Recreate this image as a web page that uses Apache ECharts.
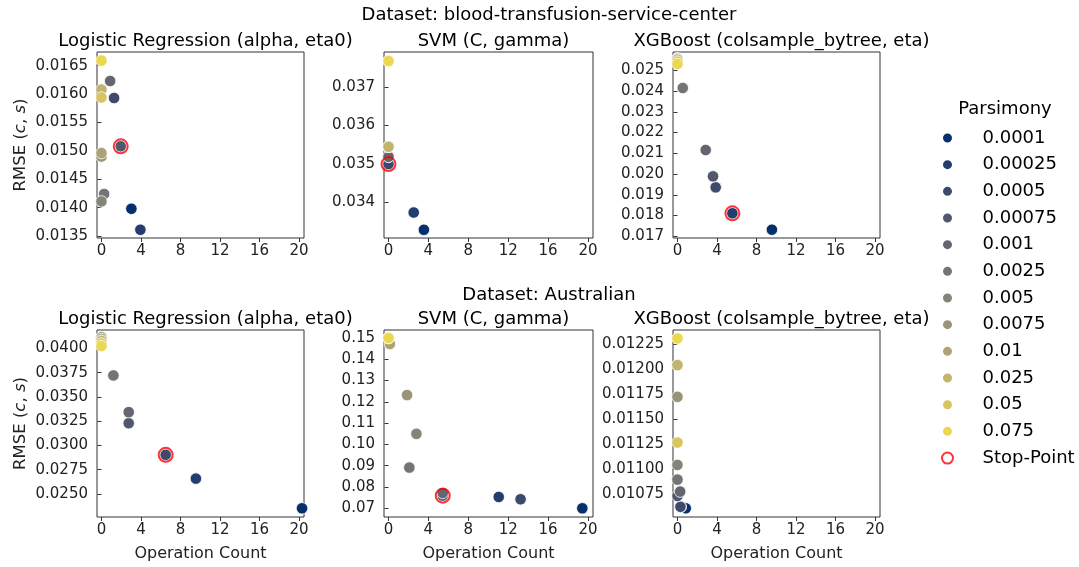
<html>
<head>
<meta charset="utf-8">
<script src="https://cdn.jsdelivr.net/npm/echarts@6/dist/echarts.min.js"></script>
</head>
<body>
<style>
  html, body, #main {
    width: 100%;
    height: 100%;
    margin: 0;
    background: #fff;
  }
</style>
<div id="main"></div>
<script>
var chart = echarts.init(document.getElementById('main'));

// parsimony levels, darkest first (cividis)
var levels = ['0.0001', '0.00025', '0.0005', '0.00075', '0.001', '0.0025',
              '0.005', '0.0075', '0.01', '0.025', '0.05', '0.075'];
var colors = ['#05306c', '#223d6e', '#3d4a6c', '#51586d', '#636670', '#747474',
              '#868478', '#999377', '#ada273', '#c2b36d', '#d8c562', '#ecd750'];

var datasets = ['Dataset: blood-transfusion-service-center', 'Dataset: Australian'];
var models = ['Logistic Regression (alpha, eta0)', 'SVM (C, gamma)', 'XGBoost (colsample_bytree, eta)'];
var xTicks = [0, 4, 8, 12, 16, 20];

// operation count / rmse per panel, one value per parsimony level
var blood_lr_x = [3.03, 3.94, 1.28, 1.95, 0.88, 0.27, 0, 0, 0, 0, 0, 0];
var blood_lr_y = [0.01398, 0.01361, 0.01593, 0.01508, 0.01623, 0.01424, 0.01411, 0.01490, 0.01496, 0.01608, 0.01594, 0.01659];
var blood_svm_x = [3.55, 2.53, 0, 0, 0, 0, 0, 0, 0, 0, 0, 0];
var blood_svm_y = [0.03328, 0.03373, 0.03499, 0.03518, 0.03518, 0.03544, 0.03544, 0.03544, 0.03544, 0.03544, 0.03767, 0.03767];
var blood_xgb_x = [9.56, 5.56, 3.87, 3.60, 2.86, 0.54, 0, 0, 0, 0, 0, 0];
var blood_xgb_y = [0.01732, 0.01811, 0.01936, 0.01989, 0.02116, 0.02415, 0.02556, 0.02556, 0.02556, 0.02552, 0.02542, 0.02531];
var aus_lr_x = [20.3, 9.56, 6.5, 2.76, 2.76, 1.21, 0, 0, 0, 0, 0, 0];
var aus_lr_y = [0.02352, 0.02658, 0.02903, 0.03229, 0.03343, 0.03721, 0.04114, 0.04114, 0.04095, 0.04076, 0.04050, 0.04024];
var aus_svm_x = [19.43, 11.05, 13.24, 5.44, 5.44, 2.09, 2.80, 1.86, 0.14, 0, 0, 0];
var aus_svm_y = [0.0700, 0.07533, 0.07424, 0.07596, 0.07722, 0.08914, 0.10498, 0.12318, 0.14718, 0.1500, 0.1500, 0.1500];
var aus_xgb_x = [0.84, 0.34, 0.30, 0, 0.27, 0, 0, 0, 0, 0, 0, 0];
var aus_xgb_y = [0.010610, 0.010623, 0.010625, 0.010733, 0.010777, 0.010897, 0.011044, 0.011725, 0.012043, 0.012043, 0.011268, 0.012310];

// stop point per panel (index of the parsimony level, -1 = none)
var stopIndex = [3, 2, 1, 2, 3, -1];

var panelX = [blood_lr_x, blood_svm_x, blood_xgb_x, aus_lr_x, aus_svm_x, aus_xgb_x];
var panelY = [blood_lr_y, blood_svm_y, blood_xgb_y, aus_lr_y, aus_svm_y, aus_xgb_y];

// y axis ranges and ticks
var yMin = [0.013465, 0.033067, 0.01692, 0.022626, 0.06592, 0.010523];
var yMax = [0.016741, 0.037907, 0.025884, 0.041892, 0.15376, 0.012394];
var yTicks = [
  [0.0135, 0.014, 0.0145, 0.015, 0.0155, 0.016, 0.0165],
  [0.034, 0.035, 0.036, 0.037],
  [0.017, 0.018, 0.019, 0.020, 0.021, 0.022, 0.023, 0.024, 0.025],
  [0.025, 0.0275, 0.030, 0.0325, 0.035, 0.0375, 0.040],
  [0.07, 0.08, 0.09, 0.10, 0.11, 0.12, 0.13, 0.14, 0.15],
  [0.01075, 0.011, 0.01125, 0.0115, 0.01175, 0.012, 0.01225]
];
var yDecimals = [4, 3, 3, 4, 2, 5];

var gridLeft = [97, 384, 673];
var gridWidth = [207, 209, 207];
var gridTop = [52, 330];
var gridHeight = [186, 187];

var font = 'DejaVu Sans';
var grids = [], xAxes = [], yAxes = [], series = [], titles = [];

titles.push({ text: datasets[0], left: 544, top: 1, textAlign: 'center',
  textStyle: { fontFamily: font, fontSize: 18, fontWeight: 'normal', color: '#000' } });
titles.push({ text: datasets[1], left: 544, top: 281, textAlign: 'center',
  textStyle: { fontFamily: font, fontSize: 18, fontWeight: 'normal', color: '#000' } });

for (var p = 0; p < 6; p++) {
  var row = Math.floor(p / 3), col = p % 3;
  grids.push({
    left: gridLeft[col], top: gridTop[row], width: gridWidth[col], height: gridHeight[row],
    show: true, borderColor: '#333', borderWidth: 1
  });
  titles.push({
    text: models[col], left: gridLeft[col] + gridWidth[col] / 2, top: gridTop[row] - 25, textAlign: 'center',
    textStyle: { fontFamily: font, fontSize: 18, fontWeight: 'normal', color: '#000' }
  });
  xAxes.push({
    gridIndex: p, type: 'value', min: -0.45, max: 20.5,
    axisLine: { show: false },
    splitLine: { show: false },
    axisTick: { show: true, length: 4, lineStyle: { color: '#333' }, customValues: xTicks },
    axisLabel: { customValues: xTicks, margin: 6, fontFamily: font, fontSize: 15, color: '#222' },
    name: row === 1 ? 'Operation Count' : '',
    nameLocation: 'middle', nameGap: 29,
    nameTextStyle: { fontFamily: font, fontSize: 16, color: '#222' }
  });
  (function (dec) {
    yAxes.push({
      gridIndex: p, type: 'value', min: yMin[p], max: yMax[p],
      axisLine: { show: false },
      splitLine: { show: false },
      axisTick: { show: true, length: 4, lineStyle: { color: '#333' }, customValues: yTicks[p] },
      axisLabel: {
        customValues: yTicks[p], margin: 9, fontFamily: font, fontSize: 15, color: '#222',
        formatter: function (v) { return v.toFixed(dec); }
      },
      name: col === 0 ? 'RMSE ({i|c}, {i|s})' : '',
      nameLocation: 'middle', nameGap: 68, nameRotate: 90,
      nameTextStyle: { fontFamily: font, fontSize: 16.5, color: '#222',
        rich: { i: { fontFamily: font, fontSize: 16.5, fontStyle: 'italic', color: '#222' } } }
    });
  })(yDecimals[p]);

  for (var k = 0; k < levels.length; k++) {
    series.push({
      type: 'scatter', name: levels[k], xAxisIndex: p, yAxisIndex: p,
      symbol: 'circle', symbolSize: 11.5,
      itemStyle: { color: colors[k], borderColor: '#fff', borderWidth: 0.8, opacity: 1 },
      emphasis: { disabled: true },
      data: [[panelX[p][k], panelY[p][k]]]
    });
  }
  if (stopIndex[p] >= 0) {
    series.push({
      type: 'scatter', name: 'Stop-Point', xAxisIndex: p, yAxisIndex: p,
      symbol: 'circle', symbolSize: 14, z: 5,
      itemStyle: { color: 'rgba(0,0,0,0)', borderColor: '#f00', borderWidth: 2 },
      emphasis: { disabled: true },
      data: [[panelX[p][stopIndex[p]], panelY[p][stopIndex[p]]]]
    });
  }
}

var legendData = levels.map(function (l) { return { name: l }; });
legendData.push({ name: 'Stop-Point', itemStyle: { color: '#fff', borderColor: '#f00', borderWidth: 2 } });

titles.push({ text: 'Parsimony', left: 1000, top: 95, textAlign: 'center',
  textStyle: { fontFamily: font, fontSize: 18, fontWeight: 'normal', color: '#000' } });

var option = {
  animation: false,
  backgroundColor: '#fff',
  title: titles,
  grid: grids,
  xAxis: xAxes,
  yAxis: yAxes,
  legend: {
    orient: 'vertical', left: 936, top: 123,
    itemWidth: 60, itemHeight: 11, itemGap: 6.67,
    icon: 'circle', selectedMode: false,
    textStyle: { fontFamily: font, fontSize: 18, color: '#000', lineHeight: 20 },
    data: legendData
  },
  series: series
};
chart.setOption(option);
</script>
</body>
</html>
